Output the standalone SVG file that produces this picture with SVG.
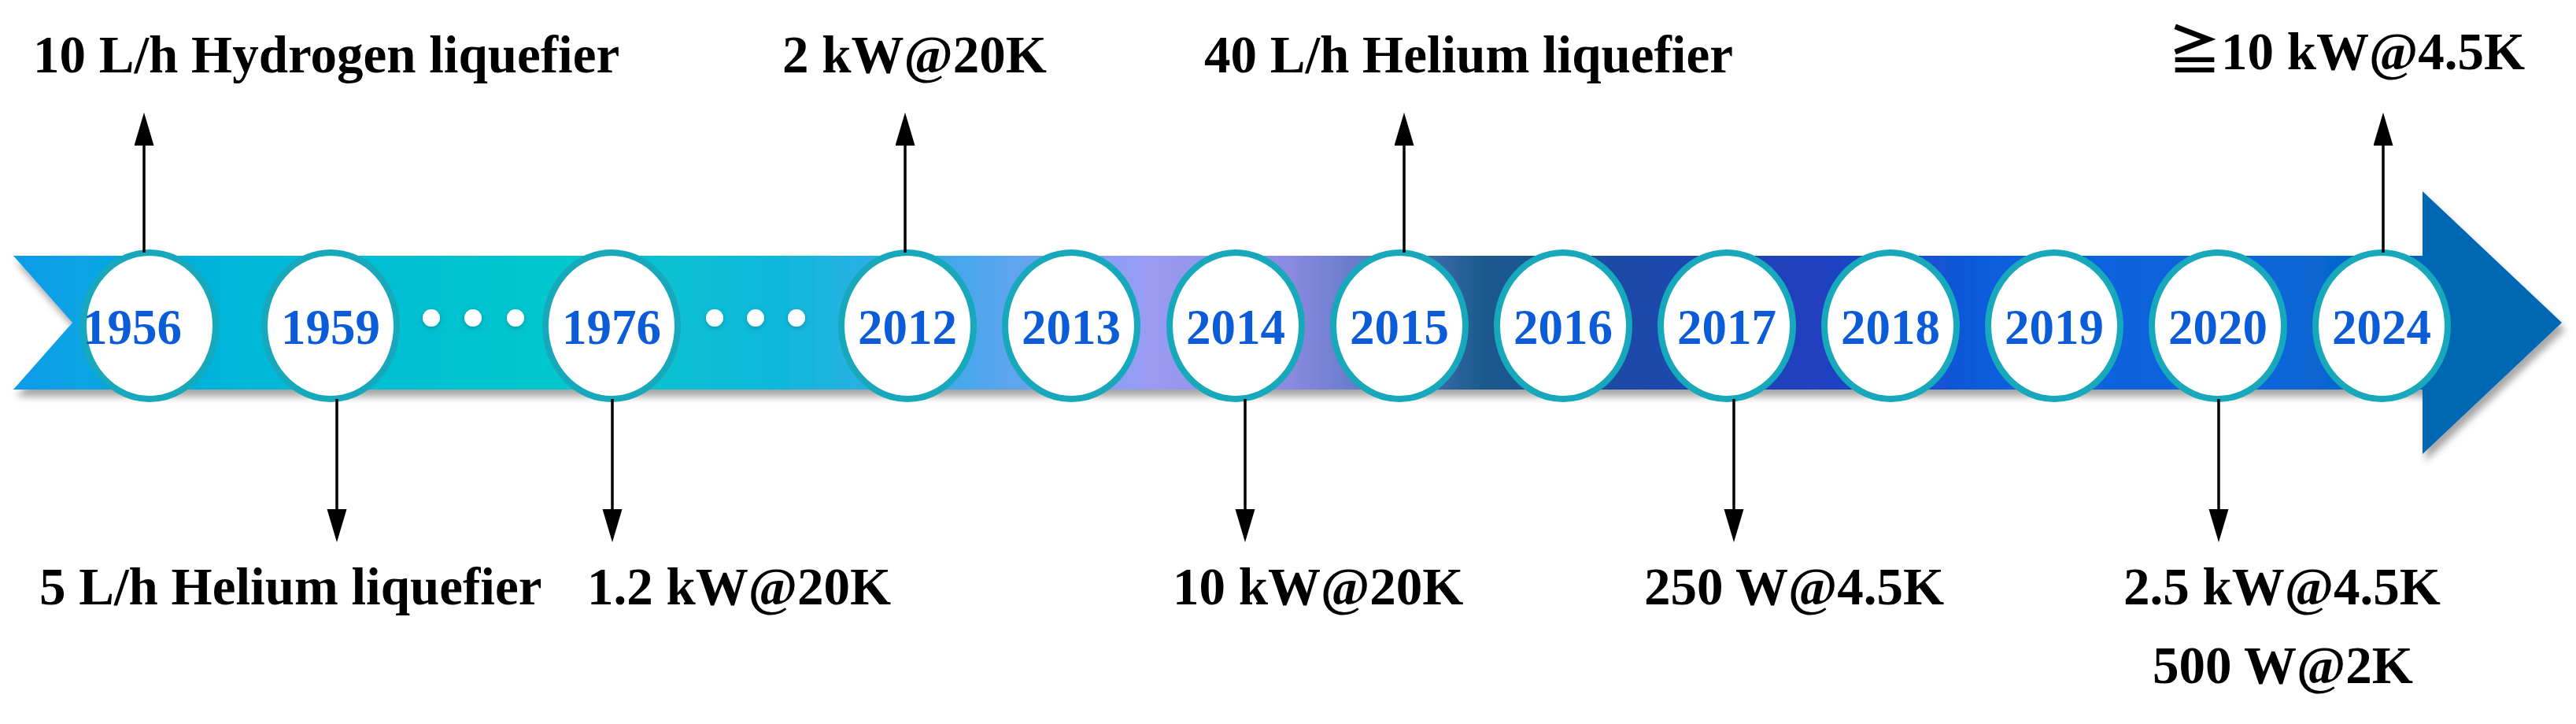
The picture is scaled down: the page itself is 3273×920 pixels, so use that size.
<svg xmlns="http://www.w3.org/2000/svg" width="3273" height="920" viewBox="0 0 3273 920">
  <style>
    .yr { font-family: "Liberation Serif", "Times New Roman", serif; font-weight: bold; font-size: 63px; fill: #0b5cd6; text-anchor: middle; }
    .lbl { font-family: "Liberation Serif", "Times New Roman", "Noto Sans CJK SC", serif; font-weight: bold; font-size: 67px; fill: #000; }
    .node { fill: #ffffff; stroke: #17a8bb; stroke-width: 8; }
    .conn { stroke: #000; stroke-width: 3.5; fill: none; marker-end: url(#ah); }
    .dot { fill: #ffffff; }
  </style>
  <defs>
    <marker id="ah" markerUnits="userSpaceOnUse" markerWidth="44" markerHeight="26" refX="0" refY="12.5" orient="auto">
      <path d="M0,0 L42,12.5 L0,25 Z" fill="#000"/>
    </marker>
    <linearGradient id="bandGrad" gradientUnits="userSpaceOnUse" x1="17" y1="0" x2="3078" y2="0">
      <stop offset="0" stop-color="#0a9be8"/>
      <stop offset="0.10" stop-color="#00b8d8"/>
      <stop offset="0.23" stop-color="#00c8cc"/>
      <stop offset="0.32" stop-color="#10b8dc"/>
      <stop offset="0.39" stop-color="#44a8ec"/>
      <stop offset="0.47" stop-color="#9a9cf4"/>
      <stop offset="0.53" stop-color="#8a8ae0"/>
      <stop offset="0.58" stop-color="#4a70b8"/>
      <stop offset="0.61" stop-color="#1a5a8c"/>
      <stop offset="0.67" stop-color="#1e4aa8"/>
      <stop offset="0.75" stop-color="#2040c0"/>
      <stop offset="0.83" stop-color="#0a60e0"/>
      <stop offset="0.94" stop-color="#0a66d8"/>
      <stop offset="1" stop-color="#0064c0"/>
    </linearGradient>
    <filter id="shadow" x="-5%" y="-20%" width="110%" height="150%">
      <feDropShadow dx="4" dy="9" stdDeviation="5" flood-color="#000" flood-opacity="0.35"/>
    </filter>
    <filter id="glow" x="-50%" y="-50%" width="200%" height="200%">
      <feDropShadow dx="0" dy="2" stdDeviation="3" flood-color="#006a80" flood-opacity="0.5"/>
    </filter>
  </defs>

  <rect width="3273" height="920" fill="#ffffff"/>

  <g id="timeline-band" filter="url(#shadow)">
    <polygon points="17,325 3079,325 3079,495 17,495 92,410" fill="url(#bandGrad)"/>
    <polygon points="3078,243 3255,410 3078,577" fill="#0667b2"/>
  </g>

  <g id="ellipsis-dots" filter="url(#glow)">
    <circle class="dot" cx="548" cy="404" r="11"/>
    <circle class="dot" cx="601" cy="404" r="11"/>
    <circle class="dot" cx="655" cy="404" r="11"/>
    <circle class="dot" cx="908" cy="404" r="11"/>
    <circle class="dot" cx="960" cy="404" r="11"/>
    <circle class="dot" cx="1012" cy="404" r="11"/>
  </g>

  <g id="node-1956"><ellipse class="node" cx="190" cy="414" rx="84" ry="93"/><text class="yr" x="168" y="437">1956</text></g>
  <g id="node-1959"><ellipse class="node" cx="420" cy="414" rx="84" ry="93"/><text class="yr" x="420" y="437">1959</text></g>
  <g id="node-1976"><ellipse class="node" cx="777" cy="414" rx="84" ry="93"/><text class="yr" x="777" y="437">1976</text></g>
  <g id="node-2012"><ellipse class="node" cx="1153" cy="414" rx="84" ry="93"/><text class="yr" x="1153" y="437">2012</text></g>
  <g id="node-2013"><ellipse class="node" cx="1361" cy="414" rx="84" ry="93"/><text class="yr" x="1361" y="437">2013</text></g>
  <g id="node-2014"><ellipse class="node" cx="1570" cy="414" rx="84" ry="93"/><text class="yr" x="1570" y="437">2014</text></g>
  <g id="node-2015"><ellipse class="node" cx="1778" cy="414" rx="84" ry="93"/><text class="yr" x="1778" y="437">2015</text></g>
  <g id="node-2016"><ellipse class="node" cx="1986" cy="414" rx="84" ry="93"/><text class="yr" x="1986" y="437">2016</text></g>
  <g id="node-2017"><ellipse class="node" cx="2194" cy="414" rx="84" ry="93"/><text class="yr" x="2194" y="437">2017</text></g>
  <g id="node-2018"><ellipse class="node" cx="2402" cy="414" rx="84" ry="93"/><text class="yr" x="2402" y="437">2018</text></g>
  <g id="node-2019"><ellipse class="node" cx="2610" cy="414" rx="84" ry="93"/><text class="yr" x="2610" y="437">2019</text></g>
  <g id="node-2020"><ellipse class="node" cx="2818" cy="414" rx="84" ry="93"/><text class="yr" x="2818" y="437">2020</text></g>
  <g id="node-2024"><ellipse class="node" cx="3026" cy="414" rx="84" ry="93"/><text class="yr" x="3026" y="437">2024</text></g>

  <g id="connectors">
    <line class="conn" x1="183" y1="321" x2="183" y2="185"/>
    <line class="conn" x1="1150" y1="321" x2="1150" y2="185"/>
    <line class="conn" x1="1784" y1="321" x2="1784" y2="185"/>
    <line class="conn" x1="3028" y1="321" x2="3028" y2="185"/>
    <line class="conn" x1="428" y1="507" x2="428" y2="647"/>
    <line class="conn" x1="778" y1="507" x2="778" y2="647"/>
    <line class="conn" x1="1582" y1="507" x2="1582" y2="647"/>
    <line class="conn" x1="2203" y1="507" x2="2203" y2="647"/>
    <line class="conn" x1="2819" y1="507" x2="2819" y2="647"/>
  </g>

  <g id="labels-top">
    <text class="lbl" x="42" y="92">10 L/h Hydrogen liquefier</text>
    <text class="lbl" x="994" y="92">2 kW@20K</text>
    <text class="lbl" x="1530" y="92">40 L/h Helium liquefier</text>
    <text class="lbl" x="2755" y="88">≧10 kW@4.5K</text>
  </g>
  <g id="labels-bottom">
    <text class="lbl" x="50" y="768">5 L/h Helium liquefier</text>
    <text class="lbl" x="746" y="768">1.2 kW@20K</text>
    <text class="lbl" x="1490" y="768">10 kW@20K</text>
    <text class="lbl" x="2089" y="768">250 W@4.5K</text>
    <text class="lbl" x="2698" y="768">2.5 kW@4.5K</text>
    <text class="lbl" x="2735" y="868">500 W@2K</text>
  </g>
</svg>
